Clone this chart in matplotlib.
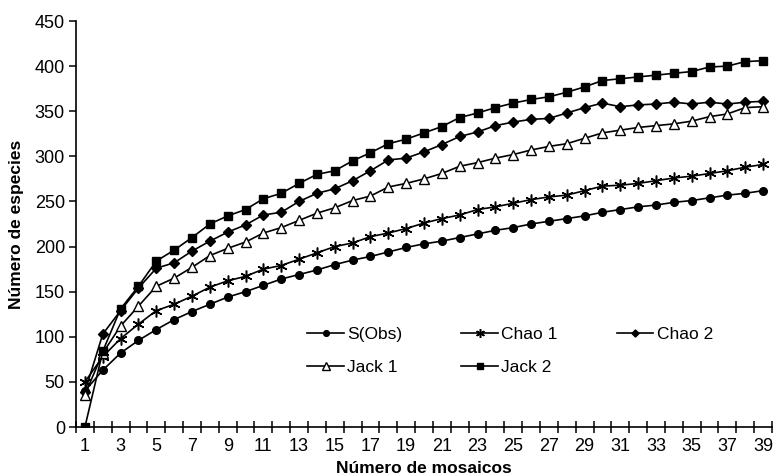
import matplotlib
matplotlib.use("Agg")
import matplotlib.pyplot as plt
from matplotlib.ticker import FixedLocator

plt.rcParams['font.family'] = ['Liberation Sans', 'DejaVu Sans']

mosaicos = list(range(1, 40))
s_obs = [40, 63, 82, 96, 108, 119, 128, 136, 144, 150, 157, 164, 169, 174, 180, 185, 189, 194, 199, 203,
         206, 210, 214, 218, 221, 225, 228, 231, 234, 238, 241, 244, 246, 249, 251, 254, 257, 259, 262]
chao1 = [50, 78, 98, 114, 129, 136, 145, 155, 162, 167, 175, 179, 186, 193, 200, 204, 211, 215, 220, 226,
         231, 235, 241, 244, 248, 252, 255, 257, 262, 267, 268, 270, 273, 276, 278, 281, 284, 288, 291]
chao2 = [39, 103, 129, 154, 176, 182, 195, 206, 216, 224, 235, 238, 250, 259, 264, 273, 284, 296, 298, 305,
         313, 322, 327, 334, 338, 341, 342, 348, 354, 359, 355, 357, 358, 360, 358, 360, 358, 360, 361]
jack1 = [36, 82, 112, 134, 156, 165, 177, 190, 198, 205, 215, 221, 229, 237, 243, 251, 256, 266, 270, 275,
         281, 289, 293, 298, 302, 307, 311, 314, 320, 326, 329, 332, 334, 336, 339, 344, 347, 354, 355]
jack2 = [0, 84, 131, 156, 184, 196, 210, 225, 234, 241, 253, 259, 270, 280, 284, 295, 304, 314, 319, 326,
         333, 343, 348, 354, 359, 363, 366, 371, 377, 384, 386, 388, 390, 392, 394, 399, 400, 405, 406]
y_ticks = [0, 50, 100, 150, 200, 250, 300, 350, 400, 450]

fig = plt.figure(figsize=(7.74, 4.76), dpi=100)
ax = fig.add_axes([76/774, 1-427/476, (772-76)/774, (427-21)/476])

lw = 1.2
h_s, = ax.plot(mosaicos, s_obs, color='black', lw=lw, marker='o', ms=5.5, label='S(Obs)')
h_c1, = ax.plot(mosaicos, chao1, color='black', lw=lw, marker=(6, 2, 0), ms=8.5, mew=1.1, label='Chao 1')
h_c2, = ax.plot(mosaicos, chao2, color='black', lw=lw, marker='D', ms=4.8, label='Chao 2')
h_j1, = ax.plot(mosaicos, jack1, color='black', lw=lw, marker='^', ms=7.5, mfc='white', mew=1.0, label='Jack 1')
h_j2, = ax.plot(mosaicos, jack2, color='black', lw=lw, marker='s', ms=5.8, label='Jack 2')

ax.set_xlim(0.5, 39.5)
ax.set_ylim(0, 450)
ax.set_yticks(y_ticks)
ax.set_xticks(mosaicos[::2])
ax.xaxis.set_minor_locator(FixedLocator([k + 0.5 for k in range(0, 40)]))
ax.tick_params(axis='x', which='major', length=0, pad=8, labelsize=13)
ax.tick_params(axis='x', which='minor', direction='inout', length=9, width=1.1)
ax.tick_params(axis='y', which='major', direction='out', length=5, width=1.1, labelsize=13, pad=3)

for s in ['top', 'right']:
    ax.spines[s].set_visible(False)
for s in ['left', 'bottom']:
    ax.spines[s].set_linewidth(1.2)

ax.set_xlabel('Número de mosaicos', fontsize=12.5, fontweight='bold', labelpad=4)
ax.set_ylabel('Número de especies', fontsize=12.5, fontweight='bold', labelpad=8)

leg = ax.legend([h_s, h_j1, h_c1, h_j2, h_c2],
                ['S(Obs)', 'Jack 1', 'Chao 1', 'Jack 2', 'Chao 2'],
                ncol=3, frameon=False, fontsize=12.5, loc='upper left',
                bbox_to_anchor=(0.31, 0.285), handlelength=2.1, handletextpad=0.2,
                columnspacing=3.4, labelspacing=1.0, markerscale=0.75)

fig.savefig('out.png', dpi=100)
